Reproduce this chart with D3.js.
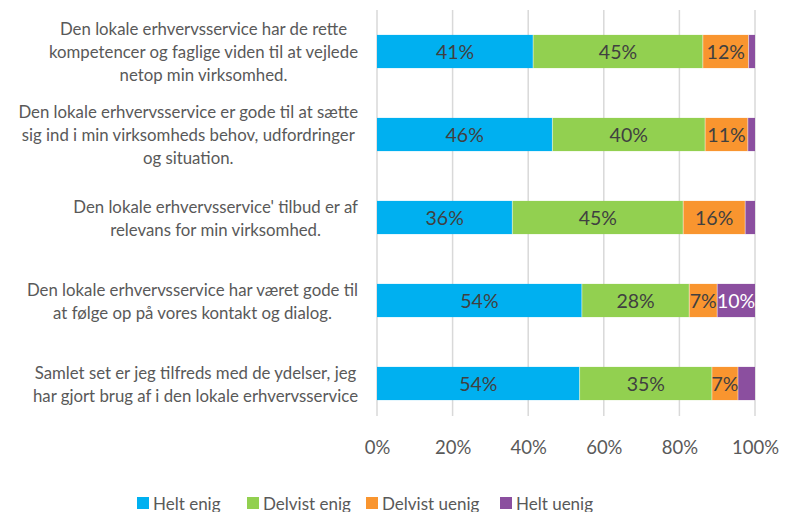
<!DOCTYPE html>
<html><head><meta charset="utf-8">
<script src="https://cdn.jsdelivr.net/npm/d3@7"></script>
<style>body{margin:0;background:#fff}svg{display:block}text{font-family:Lato,"Open Sans",sans-serif}</style>
</head><body>
<svg id="c" width="789" height="512"></svg>
<script>
const categories = [
  ["Den lokale erhvervsservice har de rette","kompetencer og faglige viden til at vejlede","netop min virksomhed."],
  ["Den lokale erhvervsservice er gode til at sætte","sig ind i min virksomheds behov, udfordringer","og situation."],
  ["Den lokale erhvervsservice' tilbud er af","relevans for min virksomhed."],
  ["Den lokale erhvervsservice har været gode til","at følge op på vores kontakt og dialog."],
  ["Samlet set er jeg tilfreds med de ydelser, jeg","har gjort brug af i den lokale erhvervsservice"]
];
const seriesNames = ["Helt enig","Delvist enig","Delvist uenig","Helt uenig"];
const heltEnig    = [41.3, 46.4, 35.8, 54.2, 53.6];
const delvistEnig = [44.9, 40.4, 45.2, 28.4, 35.0];
const delvistUenig= [12.1, 11.3, 16.4, 7.4, 6.9];
const heltUenig   = [1.7, 1.9, 2.6, 10.0, 4.5];
const tickValues = [0,20,40,60,80,100];
const colors = ["#00B0F0","#92D050","#F9952F","#8B4F9F"];
const labelColors = ["#404040","#404040","#404040","#ffffff"];

const FONT = "Lato,'Open Sans',sans-serif";
const series = [heltEnig, delvistEnig, delvistUenig, heltUenig];
const svg = d3.select("#c");
const x = d3.scaleLinear().domain([0,100]).range([377,755]);
const y = d3.scaleBand().domain(d3.range(categories.length)).range([10,425]).paddingInner(0.6).paddingOuter(0.3);

// gridlines
svg.append("g").selectAll("line").data(tickValues).join("line")
  .attr("x1",d=>x(d)).attr("x2",d=>x(d)).attr("y1",10).attr("y2",416)
  .attr("stroke","#d9d9d9").attr("stroke-width",1.5);

// bars
const rows = categories.map((c,i)=>{
  let acc=0; return series.map((s,k)=>{const o={i,k,x0:acc,v:s[i]}; acc+=s[i]; return o;});
});
const g = svg.append("g");
rows.flat().forEach(d=>{
  g.append("rect").attr("x",x(d.x0)).attr("y",y(d.i)).attr("width",x(d.x0+d.v)-x(d.x0)).attr("height",y.bandwidth())
   .attr("fill",colors[d.k]);
});
rows.flat().filter(d=>d.k>0).forEach(d=>{
  g.append("line").attr("x1",x(d.x0)).attr("x2",x(d.x0)).attr("y1",y(d.i)).attr("y2",y(d.i)+y.bandwidth())
   .attr("stroke","#ffffff").attr("stroke-opacity",0.6).attr("stroke-width",0.8);
});
rows.flat().forEach(d=>{
  if (d.v>=5) {
    g.append("text").attr("x",(x(d.x0)+x(d.x0+d.v))/2).attr("y",y(d.i)+y.bandwidth()/2)
     .attr("text-anchor","middle").attr("dominant-baseline","central")
     .attr("font-size",19.5).attr("fill",labelColors[d.k]).text(Math.round(d.v)+"%");
  }
});

// axis
const ax = d3.axisBottom(x).tickValues(tickValues).tickFormat(d=>d+"%").tickSize(0).tickPadding(0);
const axg = svg.append("g").attr("transform","translate(0,443)").call(ax);
axg.select(".domain").remove();
axg.selectAll("text").attr("font-size",18.5).attr("fill","#595959").attr("dy","0.6em").style("font-family",FONT);

// category labels
const lab = svg.append("g");
const RIGHT = 358, MAXW = 350;
categories.forEach((lines,i)=>{
  const tg = lab.append("g");
  const lh = 23;
  const cy = y(i)+y.bandwidth()/2;
  const ts = lines.map((l,j)=>tg.append("text").attr("font-size",16.8).attr("fill","#595959")
     .attr("text-anchor","middle").attr("dominant-baseline","central")
     .attr("y",cy+(j-(lines.length-1)/2)*lh).text(l));
  let maxW = d3.max(ts,t=>t.node().getComputedTextLength());
  if (maxW > MAXW) {
    const f = MAXW/maxW;
    ts.forEach(t=>{const w=t.node().getComputedTextLength(); t.attr("textLength",w*f).attr("lengthAdjust","spacingAndGlyphs");});
    maxW = MAXW;
  }
  ts.forEach(t=>t.attr("x",RIGHT-maxW/2));
});

// legend
const legX = [137,247,366,500];
const lg = svg.append("g");
seriesNames.forEach((n,k)=>{
  lg.append("rect").attr("x",legX[k]).attr("y",497).attr("width",12).attr("height",12).attr("fill",colors[k]);
  lg.append("text").attr("x",legX[k]+16).attr("y",503).attr("dominant-baseline","central")
    .attr("font-size",17).attr("fill","#595959").text(n);
});
</script>
</body></html>
